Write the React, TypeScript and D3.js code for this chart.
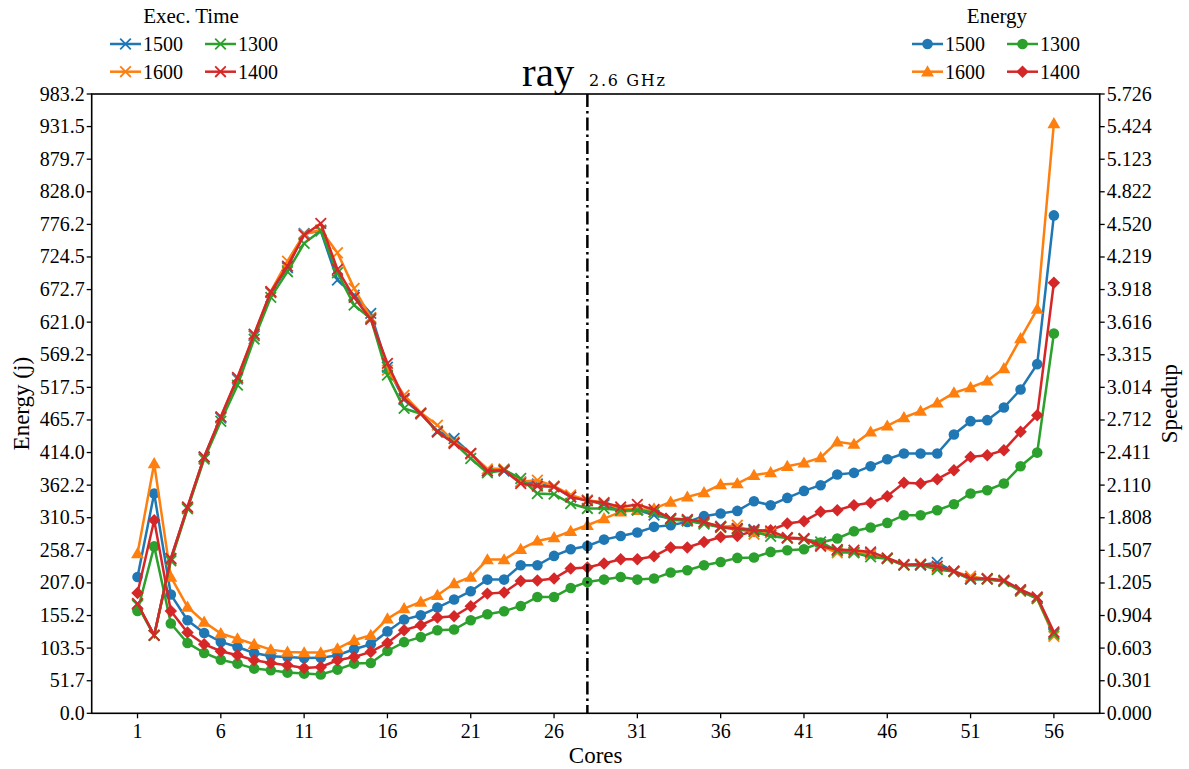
import React from 'react';
import * as d3 from 'd3';

// cores on the x axis
const cores = [
  1, 2, 3, 4, 5, 6, 7, 8, 9, 10, 11, 12, 13, 14, 15, 16, 17, 18, 19, 20,
  21, 22, 23, 24, 25, 26, 27, 28, 29, 30, 31, 32, 33, 34, 35, 36, 37, 38, 39, 40,
  41, 42, 43, 44, 45, 46, 47, 48, 49, 50, 51, 52, 53, 54, 55, 56,
];
const xTickValues = [1, 6, 11, 16, 21, 26, 31, 36, 41, 46, 51, 56];
const leftTickLabels = [
  '0.0', '51.7', '103.5', '155.2', '207.0', '258.7', '310.5', '362.2', '414.0', '465.7',
  '517.5', '569.2', '621.0', '672.7', '724.5', '776.2', '828.0', '879.7', '931.5', '983.2',
];
const rightTickLabels = [
  '0.000', '0.301', '0.603', '0.904', '1.205', '1.507', '1.808', '2.110', '2.411', '2.712',
  '3.014', '3.315', '3.616', '3.918', '4.219', '4.520', '4.822', '5.123', '5.424', '5.726',
];
const energyMax = 983.2;
const speedupMax = 5.726;
const splitCore = 28;

// energy (j), left axis
const energy1500 = [
  216.5, 349, 188.5, 147.7, 127.5, 113.3, 105.3, 95.8, 90.5, 89.5, 87.9, 88, 92.1, 101.7, 109.6, 130,
  148.8, 155.7, 167.9, 180.6, 193.8, 212.3, 212.3, 235, 235, 249.9, 260.5, 265.7, 275.8, 281.6, 287,
  296, 298.6, 303.9, 313, 317.1, 321.3, 336.7, 330.4, 342, 353.1, 362.1, 379, 381.7, 392.3, 403.4,
  412.4, 412.4, 412.4, 442.6, 463.8, 465.4, 485.5, 514.1, 554.3, 790.5,
];
const energy1600 = [
  253.6, 396.6, 216.5, 168.8, 145, 126.6, 118.6, 109.6, 101.1, 97.4, 96.4, 96.4, 102.7, 116, 123.9, 150,
  166.3, 176.8, 187.4, 206, 216.5, 244, 244, 260.5, 273.7, 279, 289, 298.6, 309.2, 319.8, 322.4,
  325, 335.6, 343.6, 350.5, 363.2, 364.8, 378, 382.3, 392.3, 397.6, 406, 431, 427.3, 446.8, 456.3,
  469.6, 479.7, 492.9, 508.8, 517.3, 527.8, 547.5, 595, 641.7, 936.4,
];
const energy1300 = [
  162.5, 265, 142.5, 111.7, 95.8, 85, 78.9, 71, 68.3, 64.6, 63, 61.5, 69.4, 78.9, 79.9, 99,
  113, 121, 131.8, 133, 147.7, 157.2, 162, 170.4, 184.7, 184.7, 199, 208.6, 212.3, 216.5, 212.3,
  213.9, 223.5, 227.1, 235, 240.3, 246.7, 247.3, 256.2, 258.9, 260.5, 271.1, 277.5, 289, 294.9, 302.3,
  314.5, 314.5, 322.4, 332, 348.9, 354.2, 364.8, 392.3, 413.9, 603,
];
const energy1400 = [
  191, 306.5, 162.5, 128.2, 109.6, 98.5, 92.1, 84.2, 79.9, 76.2, 72, 73.6, 84.2, 89.5, 97.4, 111.7,
  132, 139.8, 152, 154, 170, 190, 191.7, 210, 211, 214, 229.8, 231.4, 237.7, 244.6, 244.6,
  249.4, 263.2, 263.2, 272, 280, 281.6, 289.6, 290.7, 301.3, 305, 319.8, 322.4, 330.4, 334.1, 344.7,
  365.9, 364.8, 371.7, 386, 407.1, 409.8, 417.7, 446.8, 473.3, 683.5,
];

// execution time as speedup, right axis
const time1500 = [
  1.01, 0.72, 1.43, 1.9, 2.37, 2.73, 3.09, 3.49, 3.89, 4.12, 4.437, 4.46, 4.006, 3.867, 3.698, 3.2,
  2.9, 2.77, 2.61, 2.541, 2.4, 2.24, 2.24, 2.14, 2.12, 2.1, 2.0, 1.97, 1.93, 1.88, 1.88,
  1.832, 1.8, 1.78, 1.76, 1.73, 1.71, 1.7, 1.67, 1.62, 1.61, 1.56, 1.51, 1.49, 1.48, 1.43,
  1.37, 1.37, 1.394, 1.31, 1.24, 1.24, 1.22, 1.14, 1.07, 0.74,
];
const time1600 = [
  1.01, 0.72, 1.42, 1.9, 2.36, 2.74, 3.1, 3.5, 3.9, 4.181, 4.43, 4.47, 4.258, 3.929, 3.66, 3.173,
  2.942, 2.78, 2.664, 2.51, 2.4, 2.26, 2.26, 2.14, 2.155, 2.1, 2.02, 1.97, 1.95, 1.89, 1.89,
  1.86, 1.8, 1.78, 1.76, 1.72, 1.739, 1.656, 1.67, 1.62, 1.61, 1.55, 1.483, 1.49, 1.47, 1.43,
  1.37, 1.38, 1.34, 1.31, 1.267, 1.24, 1.22, 1.13, 1.06, 0.712,
];
const time1300 = [
  1.0, 0.72, 1.41, 1.89, 2.35, 2.7, 3.034, 3.46, 3.846, 4.083, 4.345, 4.462, 4.073, 3.774, 3.651, 3.127,
  2.819, 2.77, 2.6, 2.5, 2.356, 2.223, 2.25, 2.171, 2.032, 2.026, 1.94, 1.894, 1.894, 1.878, 1.878,
  1.86, 1.79, 1.78, 1.75, 1.72, 1.7, 1.68, 1.637, 1.62, 1.61, 1.585, 1.5, 1.483, 1.446, 1.43,
  1.37, 1.37, 1.329, 1.31, 1.24, 1.24, 1.22, 1.13, 1.06, 0.73,
];
const time1400 = [
  1.015, 0.722, 1.431, 1.908, 2.371, 2.741, 3.105, 3.506, 3.898, 4.135, 4.422, 4.53, 4.105, 3.846, 3.642, 3.235,
  2.911, 2.773, 2.602, 2.495, 2.403, 2.242, 2.248, 2.125, 2.1, 2.094, 2.001, 1.964, 1.946, 1.908, 1.931,
  1.884, 1.801, 1.792, 1.77, 1.723, 1.708, 1.693, 1.686, 1.625, 1.616, 1.545, 1.514, 1.508, 1.492, 1.437,
  1.376, 1.376, 1.36, 1.316, 1.246, 1.246, 1.23, 1.144, 1.076, 0.752,
];

const blue = '#1f77b4';
const orange = '#ff7f0e';
const green = '#2ca02c';
const red = '#d62728';

// legend order, column first like matplotlib
const energySeries = [
  { label: '1500', values: energy1500, color: blue, marker: 'circle' },
  { label: '1600', values: energy1600, color: orange, marker: 'triangle' },
  { label: '1300', values: energy1300, color: green, marker: 'circle' },
  { label: '1400', values: energy1400, color: red, marker: 'diamond' },
];
const timeSeries = [
  { label: '1500', values: time1500, color: blue, marker: 'x' },
  { label: '1600', values: time1600, color: orange, marker: 'x' },
  { label: '1300', values: time1300, color: green, marker: 'x' },
  { label: '1400', values: time1400, color: red, marker: 'x' },
];

const W = 1189;
const H = 769;
const plot = { left: 91.7, right: 1099.7, top: 94, bottom: 713.3 };
const font = '"Liberation Serif", "DejaVu Serif", serif';

const x = d3.scaleLinear().domain([-1.75, 58.75]).range([plot.left, plot.right]);
const yLeft = d3.scaleLinear().domain([0, energyMax]).range([plot.bottom, plot.top]);
const yRight = d3.scaleLinear().domain([0, speedupMax]).range([plot.bottom, plot.top]);

const triPath = d3.symbol(d3.symbolTriangle, 72)() as string;
const diamondPath = d3.symbol(d3.symbolSquare, 78)() as string;

function Marker({ kind, cx, cy, color }: { kind: string; cx: number; cy: number; color: string }) {
  if (kind === 'circle') return <circle cx={cx} cy={cy} r={5.3} fill={color} />;
  if (kind === 'triangle')
    return <path d={triPath} transform={`translate(${cx},${cy + 1})`} fill={color} />;
  if (kind === 'diamond')
    return <path d={diamondPath} transform={`translate(${cx},${cy}) rotate(45)`} fill={color} />;
  const s = 5.3;
  return (
    <path
      d={`M${cx - s},${cy - s}L${cx + s},${cy + s}M${cx - s},${cy + s}L${cx + s},${cy - s}`}
      stroke={color}
      strokeWidth={1.8}
      fill="none"
    />
  );
}

function LegendBlock({
  title,
  series,
  x0,
  colStep,
  titleX,
}: {
  title: string;
  series: typeof energySeries;
  x0: number;
  colStep: number;
  titleX: number;
}) {
  const rows = [44, 71.7];
  return (
    <g fontFamily={font} fontSize={20}>
      <text x={titleX} y={22.5} textAnchor="middle" fontSize={21}>
        {title}
      </text>
      {series.map((s, i) => {
        const col = Math.floor(i / 2);
        const row = i % 2;
        const lx = x0 + col * colStep;
        const ly = rows[row];
        return (
          <g key={s.label + i}>
            <line x1={lx} x2={lx + 31} y1={ly} y2={ly} stroke={s.color} strokeWidth={2.5} />
            <Marker kind={s.marker} cx={lx + 15.5} cy={ly} color={s.color} />
            <text x={lx + 33} y={ly + 7}>
              {s.label}
            </text>
          </g>
        );
      })}
    </g>
  );
}

export default function App() {
  const lineLeft = d3
    .line<number>()
    .x((_, i) => x(cores[i]))
    .y((d) => yLeft(d));
  const lineRight = d3
    .line<number>()
    .x((_, i) => x(cores[i]))
    .y((d) => yRight(d));

  const midX = (plot.left + plot.right) / 2;
  const midY = (plot.top + plot.bottom) / 2;

  return (
    <svg
      width={W}
      height={H}
      style={{ position: 'absolute', left: 0, top: 0, background: '#fff' }}
    >
      <rect x={0} y={0} width={W} height={H} fill="#fff" />

      {/* energy lines */}
      {energySeries.map((s) => (
        <g key={'e' + s.label}>
          <path d={lineLeft(s.values) as string} fill="none" stroke={s.color} strokeWidth={2.5} />
          {s.values.map((v, i) => (
            <Marker key={i} kind={s.marker} cx={x(cores[i])} cy={yLeft(v)} color={s.color} />
          ))}
        </g>
      ))}

      {/* execution time lines */}
      {timeSeries.map((s) => (
        <g key={'t' + s.label}>
          <path d={lineRight(s.values) as string} fill="none" stroke={s.color} strokeWidth={2.5} />
          {s.values.map((v, i) => (
            <Marker key={i} kind={s.marker} cx={x(cores[i])} cy={yRight(v)} color={s.color} />
          ))}
        </g>
      ))}

      {/* split marker */}
      <line
        x1={x(splitCore)}
        x2={x(splitCore)}
        y1={plot.top}
        y2={plot.bottom}
        stroke="#000"
        strokeWidth={2.5}
        strokeDasharray="13,4,2.5,4"
      />

      {/* frame */}
      <rect
        x={plot.left}
        y={plot.top}
        width={plot.right - plot.left}
        height={plot.bottom - plot.top}
        fill="none"
        stroke="#000"
        strokeWidth={1.6}
      />

      {/* axes */}
      <g fontFamily={font} fontSize={20}>
        {leftTickLabels.map((t) => {
          const yy = yLeft(parseFloat(t));
          return (
            <g key={'l' + t}>
              <line x1={plot.left - 5} x2={plot.left} y1={yy} y2={yy} stroke="#000" strokeWidth={1.3} />
              <text x={plot.left - 7} y={yy + 6.5} textAnchor="end">
                {t}
              </text>
            </g>
          );
        })}
        {rightTickLabels.map((t) => {
          const yy = yRight(parseFloat(t));
          return (
            <g key={'r' + t}>
              <line x1={plot.right} x2={plot.right + 5} y1={yy} y2={yy} stroke="#000" strokeWidth={1.3} />
              <text x={plot.right + 7} y={yy + 6.5} textAnchor="start">
                {t}
              </text>
            </g>
          );
        })}
        {xTickValues.map((t) => (
          <g key={'x' + t}>
            <line x1={x(t)} x2={x(t)} y1={plot.bottom} y2={plot.bottom + 5} stroke="#000" strokeWidth={1.3} />
            <text x={x(t)} y={plot.bottom + 25} textAnchor="middle">
              {t}
            </text>
          </g>
        ))}
        <text x={midX} y={763} textAnchor="middle" fontSize={23}>
          Cores
        </text>
        <text transform={`translate(29,${midY}) rotate(-90)`} textAnchor="middle" fontSize={23}>
          Energy (j)
        </text>
        <text transform={`translate(1177,${midY}) rotate(-90)`} textAnchor="middle" fontSize={23}>
          Speedup
        </text>
      </g>

      {/* title */}
      <text x={522} y={86} fontFamily={font} fontSize={41}>
        ray
      </text>
      <text x={589} y={86} fontFamily='"DejaVu Serif", serif' fontSize={16} letterSpacing={1.7}>
        2.6 GHz
      </text>

      <LegendBlock title="Exec. Time" series={timeSeries} x0={110} colStep={95} titleX={191} />
      <LegendBlock title="Energy" series={energySeries} x0={912} colStep={95} titleX={997} />
    </svg>
  );
}
